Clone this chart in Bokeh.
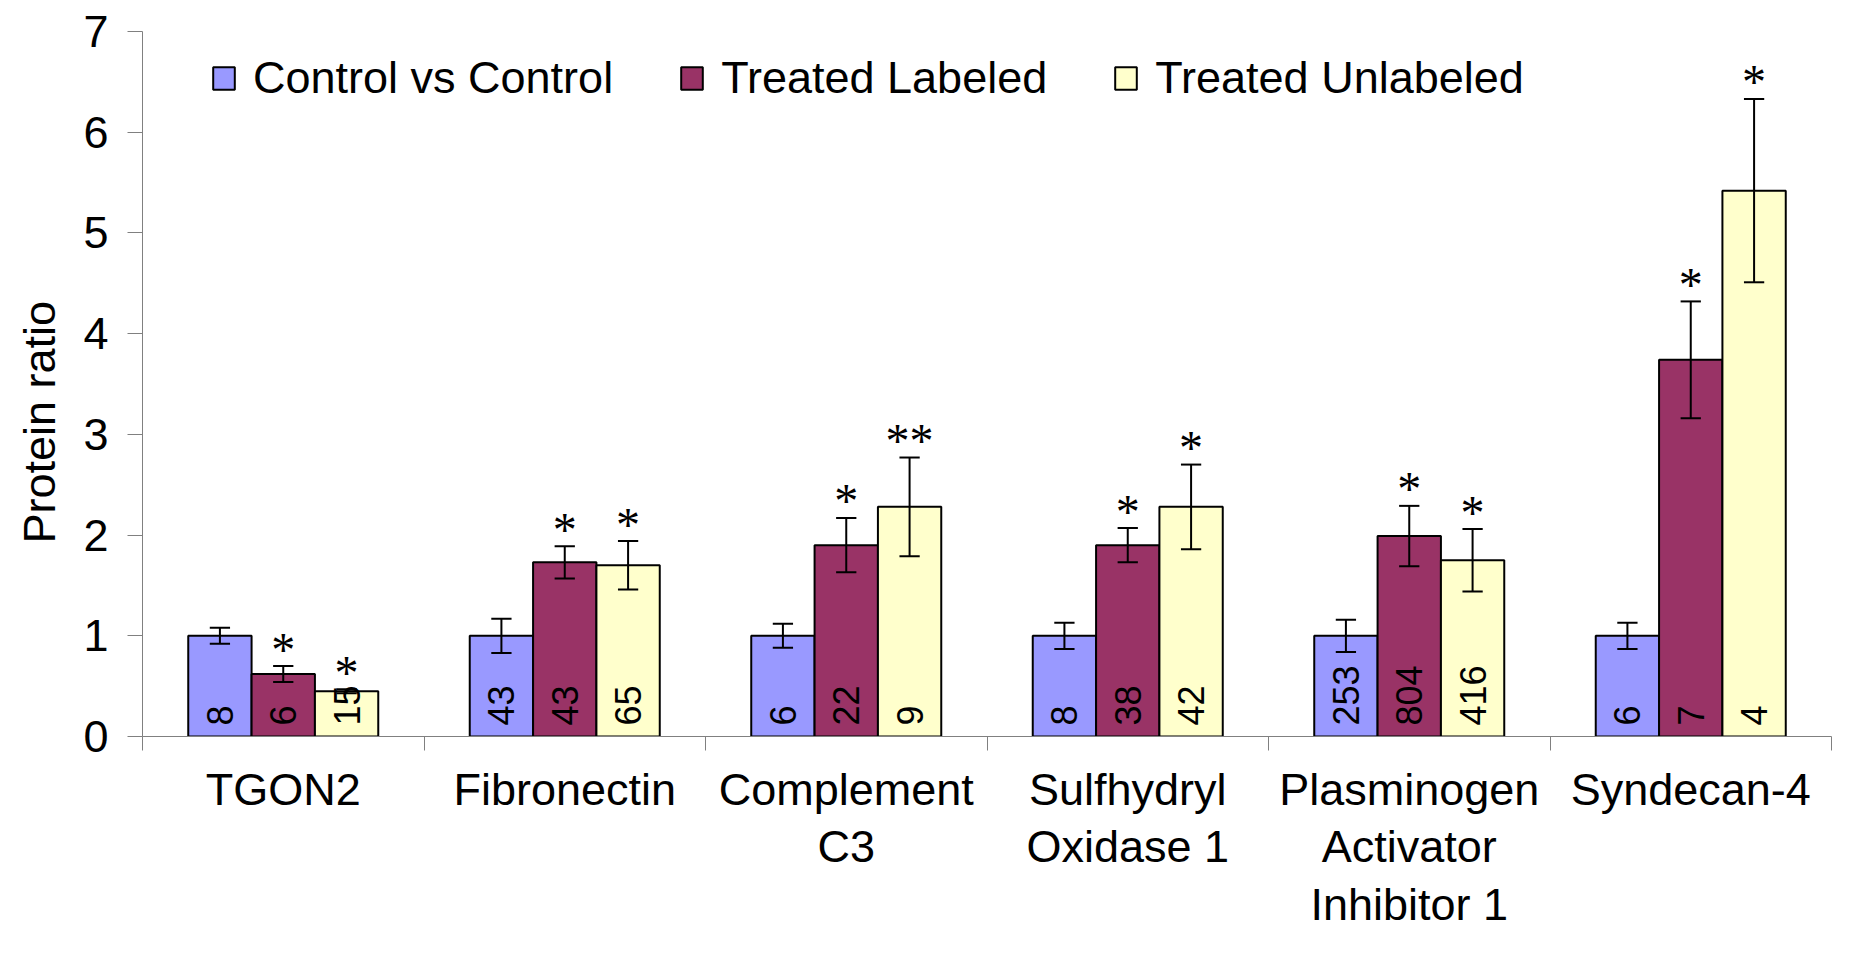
import math
from bokeh.plotting import figure
from bokeh.models import Range1d, FixedTicker, LinearAxis, Legend, LegendItem, ColumnDataSource, Title
from bokeh.core.properties import value
from bokeh.embed import file_html
from bokeh.resources import INLINE

# ---------------- data ----------------
proteins = ["TGON2", "Fibronectin", "Complement\nC3", "Sulfhydryl\nOxidase 1",
            "Plasminogen\nActivator\nInhibitor 1", "Syndecan-4"]
series = ["Control vs Control", "Treated Labeled", "Treated Unlabeled"]
colors = ["#9999FF", "#993366", "#FFFFCC"]

ratio_ctrl = [1.00, 1.00, 1.00, 1.00, 1.00, 1.00]
ratio_lab = [0.62, 1.73, 1.90, 1.90, 1.99, 3.74]
ratio_unlab = [0.45, 1.70, 2.28, 2.28, 1.75, 5.42]

err_ctrl = [0.08, 0.17, 0.12, 0.13, 0.16, 0.13]
err_lab = [0.08, 0.16, 0.27, 0.17, 0.30, 0.58]
err_unlab = [0.02, 0.24, 0.49, 0.42, 0.31, 0.91]

n_ctrl = ["8", "43", "6", "8", "253", "6"]
n_lab = ["6", "43", "22", "38", "804", "7"]
n_unlab = ["15", "65", "9", "42", "416", "4"]

sig_ctrl = ["", "", "", "", "", ""]
sig_lab = ["*", "*", "*", "*", "*", "*"]
sig_unlab = ["*", "*", "**", "*", "*", "*"]

y_ticks = [0, 1, 2, 3, 4, 5, 6, 7]
y_title = "Protein ratio"

# ---------------- figure ----------------
FONT = "Liberation Sans"
GRAY = "#808080"

p = figure(width=1835, height=938, output_backend="svg", toolbar_location=None,
           x_range=Range1d(0, 6), y_range=Range1d(0, 7),
           min_border_left=142, min_border_right=4, min_border_top=31, min_border_bottom=202)
p.outline_line_color = None
p.grid.visible = False
p.background_fill_color = "white"

# left axis
ya = p.yaxis[0]
ya.ticker = FixedTicker(ticks=y_ticks)
ya.axis_line_color = GRAY
ya.major_tick_line_color = GRAY
ya.major_tick_out = 15
ya.major_tick_in = 0
ya.minor_tick_line_color = None
ya.major_label_text_font = FONT
ya.major_label_text_font_size = "45px"
ya.major_label_text_color = "black"
ya.major_label_standoff = 19

# y title (placed on the left, shifted along the axis like the original)
p.add_layout(Title(text=y_title, align="left", offset=193, vertical_align="top",
                   standoff=27, text_font=FONT, text_font_size="45px",
                   text_font_style="normal", text_color="black"), "left")

# bottom axis 1: category separators
xa = p.xaxis[0]
xa.ticker = FixedTicker(ticks=list(range(len(proteins) + 1)))
xa.axis_line_color = GRAY
xa.major_tick_line_color = GRAY
xa.major_tick_out = 14
xa.major_tick_in = 0
xa.minor_tick_line_color = None
xa.major_label_text_font_size = "1px"
xa.major_label_standoff = 0
xa.major_label_overrides = {i: "" for i in range(len(proteins) + 1)}

# bottom axis 2: category names
centers = [i + 0.5 for i in range(len(proteins))]
xa2 = LinearAxis(ticker=FixedTicker(ticks=centers),
                 major_label_overrides={c: name for c, name in zip(centers, proteins)})
xa2.axis_line_color = None
xa2.major_tick_line_color = None
xa2.major_tick_out = 0
xa2.major_tick_in = 0
xa2.minor_tick_line_color = None
xa2.major_label_text_font = FONT
xa2.major_label_text_font_size = "45px"
xa2.major_label_text_color = "black"
xa2.major_label_text_line_height = 1.133
xa2.major_label_standoff = 13
p.add_layout(xa2, "below")

# ---------------- bars ----------------
bw = 0.225
offsets = [-bw, 0.0, bw]
vals = [ratio_ctrl, ratio_lab, ratio_unlab]
errs = [err_ctrl, err_lab, err_unlab]
ns = [n_ctrl, n_lab, n_unlab]
sigs = [sig_ctrl, sig_lab, sig_unlab]

items = []
for k in range(3):
    xs = [c + offsets[k] for c in centers]
    src = ColumnDataSource(dict(
        x=xs, top=vals[k], lo=[v - e for v, e in zip(vals[k], errs[k])],
        hi=[v + e for v, e in zip(vals[k], errs[k])],
        xl=[x - 0.036 for x in xs], xr=[x + 0.036 for x in xs],
        n=ns[k], sig=sigs[k], zero=[0] * len(xs)))
    r = p.vbar(x="x", top="top", bottom=0, width=bw, source=src,
               fill_color=colors[k], line_color="black", line_width=2)
    items.append(LegendItem(label=series[k], renderers=[r]))
    # error bars
    p.segment(x0="x", y0="lo", x1="x", y1="hi", source=src, line_color="black", line_width=2)
    p.segment(x0="xl", y0="hi", x1="xr", y1="hi", source=src, line_color="black", line_width=2)
    p.segment(x0="xl", y0="lo", x1="xr", y1="lo", source=src, line_color="black", line_width=2)
    # counts inside bars
    p.text(x="x", y="zero", text="n", source=src, angle=math.pi / 2,
           text_align="left", text_baseline="middle", y_offset=-11,
           text_font=value(FONT), text_font_size="36px", text_color="black")
    # significance
    p.text(x="x", y="hi", text="sig", source=src, text_align="center",
           text_baseline="alphabetic", y_offset=-17,
           text_font=value("Liberation Serif"), text_font_size="48px", text_color="black")

legend = Legend(items=items, orientation="horizontal", location=(68, 632),
                glyph_width=27, glyph_height=28, label_standoff=16, spacing=65,
                padding=0, margin=0, border_line_color=None, background_fill_alpha=0,
                label_text_font=FONT, label_text_font_size="45px", label_text_color="black")
p.add_layout(legend)

open("out.html", "w").write(file_html(p, INLINE))
